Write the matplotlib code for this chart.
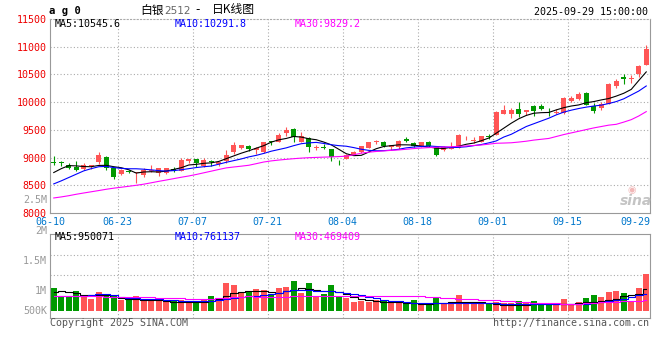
import matplotlib
matplotlib.use("Agg")
import matplotlib.pyplot as plt
from matplotlib.transforms import ScaledTranslation

# ---- данные ----
date_labels = ["06-10", "06-23", "07-07", "07-21", "08-04", "08-18", "09-01", "09-15", "09-29"]
date_idx = [0, 9, 19, 29, 39, 49, 59, 69, 79]

opens = [8920, 8910, 8866, 8823, 8792, 8850, 8927, 9012, 8810, 8695,
         8755, 8720, 8683, 8755, 8725, 8725, 8798, 8756, 8933, 8970,
         8847, 8945, 8878, 8939, 9103, 9170, 9200, 9128, 9104, 9290,
         9287, 9439, 9512, 9280, 9360, 9180, 9190, 9152, 8925, 8970,
         9044, 9104, 9164, 9284, 9272, 9182, 9182, 9344, 9254, 9212,
         9272, 9194, 9134, 9160, 9172, 9346, 9292, 9280, 9385, 9412,
         9790, 9790, 9880, 9814, 9922, 9922, 9826, 9805, 9808, 10019,
         10049, 10169, 9928, 9898, 9970, 10284, 10458, 10410, 10512, 10663]
highs = [9030, 8945, 8896, 8940, 8908, 8875, 9097, 9036, 8815, 8790,
         8780, 8745, 8810, 8870, 8810, 8820, 8830, 8994, 8975, 8975,
         9000, 8950, 8920, 9128, 9274, 9232, 9225, 9189, 9274, 9300,
         9440, 9550, 9530, 9457, 9370, 9225, 9238, 9152, 8963, 9060,
         9122, 9212, 9280, 9326, 9302, 9225, 9320, 9380, 9272, 9272,
         9290, 9200, 9200, 9274, 9430, 9394, 9364, 9394, 9418, 9838,
         9952, 9892, 10000, 9862, 9952, 9970, 9892, 9868, 10091, 10109,
         10181, 10187, 9989, 10007, 10350, 10422, 10500, 10482, 10663, 11030]
lows = [8860, 8850, 8786, 8755, 8780, 8790, 8890, 8768, 8615, 8690,
        8720, 8542, 8652, 8745, 8660, 8695, 8744, 8750, 8896, 8830,
        8830, 8840, 8853, 8908, 9060, 9146, 9122, 9067, 9091, 9220,
        9274, 9384, 9287, 9280, 9104, 9134, 9152, 8940, 8860, 8970,
        9044, 9086, 9164, 9242, 9182, 9140, 9152, 9284, 9182, 9182,
        9182, 9026, 9110, 9150, 9172, 9310, 9262, 9280, 9340, 9412,
        9790, 9718, 9730, 9772, 9742, 9850, 9742, 9778, 9790, 10007,
        10031, 9946, 9802, 9850, 9970, 10248, 10320, 10350, 10452, 10663]
closes = [8895, 8905, 8805, 8780, 8872, 8872, 9055, 8810, 8658, 8780,
          8745, 8740, 8780, 8775, 8805, 8817, 8756, 8951, 8975, 8896,
          8963, 8914, 8920, 9048, 9219, 9232, 9152, 9165, 9274, 9280,
          9408, 9500, 9378, 9384, 9195, 9190, 9180, 9012, 8915, 9055,
          9098, 9200, 9272, 9290, 9200, 9218, 9302, 9290, 9206, 9272,
          9212, 9050, 9194, 9180, 9412, 9352, 9322, 9394, 9378, 9814,
          9862, 9862, 9790, 9850, 9832, 9874, 9815, 9812, 10079, 10067,
          10151, 9946, 9838, 9970, 10332, 10380, 10410, 10440, 10650, 10950]

ma5 = [8730, 8800, 8855, 8850, 8838, 8835, 8858, 8860, 8835, 8817,
       8780, 8720, 8740, 8745, 8740, 8756, 8786, 8817, 8866, 8878,
       8896, 8905, 8930, 8980, 9030, 9079, 9122, 9170, 9215, 9278,
       9320, 9345, 9381, 9370, 9340, 9322, 9280, 9230, 9150, 9070,
       9035, 9040, 9100, 9160, 9200, 9215, 9230, 9230, 9225, 9206,
       9190, 9170, 9164, 9185, 9205, 9240, 9262, 9304, 9352, 9440,
       9530, 9620, 9700, 9760, 9800, 9810, 9814, 9860, 9900, 9930,
       9950, 9990, 10010, 10040, 10065, 10109, 10160, 10230, 10390, 10545.6]
ma10 = [8525, 8580, 8640, 8700, 8760, 8800, 8835, 8840, 8820, 8805,
        8798, 8798, 8790, 8778, 8765, 8756, 8765, 8780, 8800, 8820,
        8835, 8847, 8880, 8915, 8945, 8975, 9012, 9040, 9075, 9115,
        9145, 9175, 9215, 9250, 9265, 9274, 9255, 9232, 9215, 9205,
        9180, 9150, 9130, 9122, 9125, 9134, 9150, 9175, 9190, 9200,
        9210, 9200, 9194, 9180, 9185, 9195, 9215, 9235, 9265, 9300,
        9370, 9420, 9490, 9560, 9610, 9660, 9710, 9770, 9820, 9855,
        9885, 9910, 9930, 9946, 9975, 10010, 10060, 10130, 10200, 10291.8]
ma30 = [8271, 8290, 8312, 8338, 8361, 8383, 8405, 8428, 8448, 8465,
        8482, 8500, 8520, 8545, 8571, 8595, 8620, 8645, 8668, 8695,
        8725, 8755, 8785, 8814, 8830, 8845, 8861, 8890, 8920, 8940,
        8955, 8968, 8980, 8990, 8998, 9003, 9008, 9012, 9018, 9025,
        9050, 9080, 9097, 9110, 9120, 9130, 9138, 9150, 9162, 9172,
        9180, 9186, 9191, 9195, 9203, 9210, 9218, 9227, 9242, 9258,
        9262, 9267, 9280, 9295, 9315, 9330, 9345, 9380, 9415, 9445,
        9475, 9505, 9535, 9560, 9585, 9600, 9640, 9684, 9750, 9829.2]

# объём, тыс. лотов
volumes = [1010, 642, 642, 861, 642, 526, 832, 759, 642, 467,
           511, 642, 526, 467, 467, 380, 467, 467, 380, 380,
           467, 642, 467, 1230, 1120, 788, 861, 964, 905, 759,
           1010, 1050, 1300, 788, 1230, 642, 730, 1120, 642, 570,
           380, 423, 409, 467, 423, 380, 380, 380, 467, 350,
           321, 570, 350, 350, 686, 350, 350, 350, 350, 380,
           350, 350, 423, 350, 423, 350, 350, 292, 511, 321,
           380, 570, 686, 599, 832, 876, 788, 380, 1010, 1600]
vma5 = [830, 870, 850, 790, 700, 720, 700, 680, 620, 575,
        545, 515, 480, 467, 460, 430, 415, 395, 394, 394,
        400, 423, 520, 640, 800, 840, 861, 861, 861, 840,
        790, 880, 930, 990, 970, 910, 870, 861, 832, 740,
        600, 520, 470, 440, 400, 394, 394, 355, 330, 321,
        321, 335, 350, 390, 394, 394, 394, 394, 360, 300,
        270, 250, 248, 248, 310, 321, 321, 321, 321, 321,
        360, 394, 394, 450, 500, 540, 642, 686, 759, 950]
vma10 = [642, 642, 642, 642, 660, 715, 725, 730, 680, 620,
         590, 565, 545, 530, 511, 480, 460, 440, 430, 423,
         423, 423, 467, 510, 560, 610, 640, 672, 700, 730,
         770, 880, 905, 905, 900, 880, 876, 870, 840, 780,
         740, 680, 620, 560, 500, 450, 420, 394, 370, 350,
         350, 350, 350, 350, 350, 350, 350, 350, 350, 330,
         321, 321, 310, 295, 292, 292, 292, 292, 292, 292,
         292, 310, 350, 390, 423, 460, 511, 600, 680, 761]
vma30 = [642, 642, 642, 642, 642, 642, 642, 635, 630, 625,
         618, 613, 605, 595, 584, 575, 565, 555, 545, 540,
         540, 540, 560, 584, 600, 620, 640, 630, 620, 613,
         620, 630, 640, 645, 655, 665, 672, 672, 672, 672,
         665, 660, 650, 642, 642, 642, 642, 642, 642, 642,
         630, 610, 590, 565, 540, 525, 512, 500, 490, 465,
         445, 425, 400, 385, 370, 360, 345, 330, 321, 321,
         321, 340, 370, 394, 405, 415, 423, 440, 455, 469]

RED = "#ff5555"
GREEN = "#009900"
GRID = "#aaaaaa"
MONO = "DejaVu Sans Mono"
FS = 7.2
LW = 0.8

W, H = 660, 360
fig = plt.figure(figsize=(W / 100, H / 100), dpi=100)


def px(x, y):
    return x / W, 1 - y / H


def ftext(x, y, s, **kw):
    kw.setdefault("family", MONO)
    kw.setdefault("fontsize", FS)
    kw.setdefault("va", "center")
    fig.text(*px(x, y), s, **kw)


x = list(range(len(closes)))
cols = [RED if c >= o else GREEN for o, c in zip(opens, closes)]
grid_pos = [i - 0.5 for i in date_idx[1:-1]]
dots = (0, (1, 2))

# === основная панель: свечи ===
ax = fig.add_axes([50 / W, 1 - 213 / H, 600 / W, 194 / H])
ax.set_xlim(-0.5, 79.5)
ax.set_ylim(8000, 11500)
for yv in range(8500, 11500, 500):
    ax.axhline(yv, color=GRID, lw=0.8, ls=dots, zorder=0)
for p in grid_pos:
    ax.axvline(p, color=GRID, lw=0.8, ls=dots, zorder=0)

ax.vlines(x, lows, highs, colors=cols, lw=LW, zorder=2)
bottoms = [min(o, c) for o, c in zip(opens, closes)]
heights = [max(abs(c - o), 14) for o, c in zip(opens, closes)]
ax.bar(x, heights, bottom=bottoms, width=0.72, color=cols, zorder=3)

ax.plot(x, ma5, color="black", lw=LW, zorder=4)
ax.plot(x, ma10, color="#0000ff", lw=LW, zorder=4)
ax.plot(x, ma30, color="#ff00ff", lw=LW, zorder=4)

ax.set_yticks(range(8000, 11501, 500))
ax.set_yticklabels([str(v) for v in range(8000, 11501, 500)],
                   family=MONO, fontsize=FS, color="#ee0000")
for lab in ax.get_yticklabels():
    lab.set_transform(lab.get_transform() + ScaledTranslation(0, 2.2 / 100, fig.dpi_scale_trans))
ax.set_xticks([i - 0.5 for i in date_idx[:-1]] + [79.5])
ax.set_xticklabels(date_labels, family=MONO, fontsize=FS, color="#0077cc")
ax.get_xticklabels()[-1].set_ha("right")
ax.tick_params(axis="y", length=0, pad=2.5)
ax.tick_params(axis="x", length=0, pad=3.2)
for s in ["left", "right", "bottom"]:
    ax.spines[s].set_color("#999999")
ax.spines["top"].set_color(GRID)
ax.spines["top"].set_linestyle(dots)
ax.spines["top"].set_linewidth(0.8)

# === панель объёма ===
k = 43.8e3  # объём на пиксель
av = fig.add_axes([50 / W, 1 - 318 / H, 600 / W, 84 / H])
av.set_xlim(-0.5, 79.5)
av.set_ylim(-7 * k, 77 * k)
for yv in [56 * k, 36 * k]:
    av.axhline(yv, color=GRID, lw=0.8, ls=dots, zorder=0)
for p in grid_pos:
    av.axvline(p, color=GRID, lw=0.8, ls=dots, zorder=0)
av.bar(x, [v * 1000 for v in volumes], width=0.8, color=cols, zorder=2)
av.plot(x, [v * 1000 for v in vma5], color="black", lw=LW, drawstyle="steps-mid", zorder=3)
av.plot(x, [v * 1000 for v in vma10], color="#0000ff", lw=LW, drawstyle="steps-mid", zorder=3)
av.plot(x, [v * 1000 for v in vma30], color="#ff00ff", lw=LW, drawstyle="steps-mid", zorder=3)
av.set_xticks([])
av.set_yticks([])
for s in av.spines.values():
    s.set_color("#999999")

# === подписи ===
ftext(49, 11, "a g 0", fontsize=7.6, weight="bold")
cjk = ["Noto Sans CJK SC", "DejaVu Sans"]
ftext(140, 10, "白银", family=cjk, fontsize=8.5)
ftext(164, 10.5, "2512", family="DejaVu Sans", fontsize=7.5, color="#666666")
ftext(198, 10, "-", family="DejaVu Sans", fontsize=8.5, ha="center")
ftext(212, 10, "日K线图", family=cjk, fontsize=8.5)
ftext(648, 12, "2025-09-29 15:00:00", ha="right")

ftext(55, 24, "MA5:10545.6", color="black")
ftext(175, 24, "MA10:10291.8", color="#0000ff")
ftext(295, 24, "MA30:9829.2", color="#ff00ff")
ftext(55, 237.5, "MA5:950071", color="black")
ftext(175, 237.5, "MA10:761137", color="#0000ff")
ftext(295, 237.5, "MA30:469409", color="#ff00ff")

for lbl, yy in [("2.5M", 200), ("2M", 231), ("1.5M", 261), ("1M", 291), ("500K", 311)]:
    ftext(47, yy, lbl, ha="right", color="#999999")

ftext(50, 323.5, "Copyright 2025 SINA.COM", color="#555555")
ftext(649, 323.5, "http://finance.sina.com.cn", ha="right", color="#555555")

ftext(632, 190, "◉", family="DejaVu Sans", fontsize=7, color="#f2b8b8", ha="center")
ftext(636, 201, "sina", family="DejaVu Sans", fontsize=10, weight="bold",
      style="italic", color="#c4c4c4", ha="center")

fig.savefig("out.png", dpi=100)
